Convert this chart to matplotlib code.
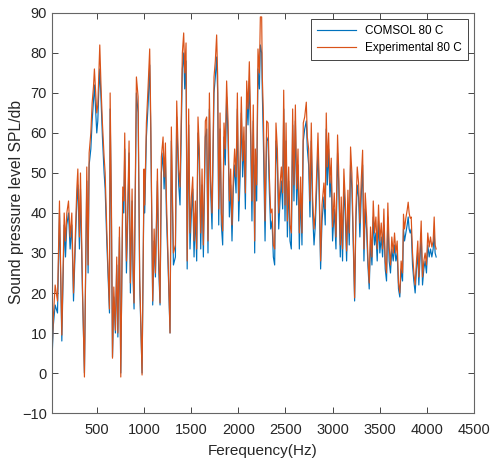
import numpy as np
import matplotlib
matplotlib.use('Agg')
import matplotlib.pyplot as plt

plt.rcParams['font.family'] = ['Liberation Sans', 'DejaVu Sans']

# frequency (Hz)
freq = [20, 35, 54, 79, 100, 125, 150, 164, 178, 196,
        213, 231, 249, 266, 284, 295, 312, 323, 344, 365,
        390, 404, 415, 433, 447, 461, 471, 496, 507, 517,
        528, 542, 556, 574, 585, 602, 631, 638, 652, 663,
        677, 694, 708, 720, 737, 751, 772, 783, 793, 811,
        822, 839, 853, 871, 882, 892, 917, 935, 952, 977,
        998, 1005, 1023, 1041, 1058, 1069, 1090, 1105, 1119, 1140,
        1154, 1168, 1182, 1200, 1211, 1225, 1235, 1253, 1274, 1288,
        1310, 1331, 1345, 1366, 1380, 1405, 1419, 1430, 1444, 1456,
        1472, 1486, 1501, 1515, 1529, 1543, 1557, 1571, 1585, 1600,
        1614, 1628, 1649, 1663, 1677, 1692, 1706, 1720, 1741, 1755,
        1769, 1780, 1791, 1805, 1819, 1833, 1847, 1861, 1875, 1890,
        1904, 1918, 1932, 1946, 1960, 1975, 1989, 2003, 2017, 2031,
        2045, 2059, 2074, 2088, 2102, 2116, 2130, 2144, 2158, 2173,
        2180, 2194, 2208, 2223, 2233, 2247, 2254, 2265, 2283, 2300,
        2315, 2329, 2343, 2357, 2371, 2385, 2399, 2414, 2428, 2442,
        2456, 2470, 2481, 2495, 2506, 2520, 2534, 2548, 2562, 2576,
        2590, 2605, 2619, 2633, 2647, 2661, 2675, 2689, 2704, 2721,
        2732, 2746, 2760, 2774, 2788, 2803, 2817, 2831, 2845, 2859,
        2873, 2888, 2908, 2922, 2933, 2944, 2958, 2972, 2986, 3000,
        3018, 3036, 3053, 3064, 3082, 3092, 3106, 3120, 3135, 3149,
        3163, 3177, 3191, 3205, 3219, 3234, 3248, 3262, 3276, 3290,
        3304, 3319, 3333, 3347, 3361, 3375, 3389, 3403, 3418, 3432,
        3446, 3460, 3474, 3488, 3502, 3517, 3531, 3545, 3559, 3573,
        3587, 3601, 3615, 3629, 3644, 3658, 3672, 3686, 3700, 3714,
        3728, 3743, 3753, 3764, 3778, 3792, 3803, 3813, 3824, 3835,
        3849, 3863, 3877, 3891, 3905, 3916, 3927, 3941, 3955, 3969,
        3983, 3997, 4011, 4026, 4040, 4054, 4068, 4079, 4089, 4100]

# experimental SPL (dB)
spl_exp = [4, 14, 22, 18, 43, 9.5, 40, 33, 40, 43,
           34, 40, 20, 33, 46, 51, 34, 50, 22, -1,
           51.5, 27, 55, 60, 67.5, 71.5, 76, 65, 67, 74,
           82, 71, 62.5, 54, 50, 36, 16, 70, 41, 3.7,
           21.5, 10.7, 29, 10, 36.5, -1, 46.5, 43, 60, 28,
           38, 58, 22.5, 46, 26, 17.5, 74, 69, 24, -0.5,
           51, 42, 62.5, 71.5, 81, 64, 18, 36, 25, 51,
           29, 17.5, 54, 59, 49, 57.5, 44, 29, 10, 61.5,
           30, 32, 68, 51, 46.5, 80, 85, 75, 82.5, 28,
           66, 35, 44, 49, 33, 43, 31, 64, 56, 35,
           51, 32, 63, 64, 33, 70, 48, 40, 74, 78,
           84.5, 74, 41, 65, 40, 35.5, 62.5, 56, 73, 63,
           43, 51, 37, 49, 56, 49, 70, 43, 52, 69,
           53, 61.5, 45, 73, 66, 77.8, 63, 43, 67, 33,
           56, 47, 81, 75, 89, 89, 74, 65, 38, 63,
           62.5, 49, 40, 41, 32, 31, 62.5, 56, 40, 47,
           51.5, 45, 70.7, 42, 62.5, 38, 51.5, 37, 35, 66,
           47, 67, 46, 56, 35, 49, 35, 62.5, 64, 67.7,
           59, 56, 43, 62.5, 44, 36, 40, 50, 60, 47,
           28, 42, 47.5, 41, 65, 51.5, 60, 47.5, 53.7, 36.5,
           45, 34, 59.5, 51.5, 32, 44, 31, 51, 43, 30.5,
           45.7, 35, 56.5, 50, 35, 18.8, 41, 51.5, 47.5, 37.5,
           48, 55.7, 31, 45, 39, 29, 22.5, 36.5, 29, 43,
           35, 39, 31, 42, 33, 37.5, 31, 41, 28, 25,
           42.5, 31.5, 27, 34, 30, 35, 30, 33, 22.5, 20,
           28, 25, 39.7, 36, 38.7, 40.7, 42.7, 40, 38.7, 39,
           30, 25, 22, 28, 33, 24, 30, 38, 24, 28,
           30, 27, 35, 31.5, 34, 31.5, 33, 39, 32, 31]

# COMSOL SPL (dB)
spl_comsol = [3, 12, 17, 15, 40, 8, 37, 29, 37, 40,
              31, 37, 18, 30, 43, 47, 31, 46, 20, 0,
              48, 25, 52, 56, 63, 68, 72, 60, 63, 70,
              76, 68, 59, 50, 46, 33, 15, 66, 38, 4,
              19, 10, 27, 9, 34, 0, 44, 40, 56, 25,
              35, 55, 20, 43, 23, 16, 70, 65, 22, 0,
              48, 40, 59, 67, 77, 61, 17, 33, 24, 48,
              26, 17, 50, 55, 46, 54, 40, 27, 10, 58,
              27, 29, 64, 47, 42, 76, 80, 71, 78, 26,
              62, 31, 40, 46, 29, 40, 28, 60, 53, 31,
              47, 29, 59, 61, 30, 66, 45, 36, 70, 74,
              79, 70, 37, 61, 37, 32, 59, 52, 69, 59,
              39, 47, 33, 46, 52, 45, 66, 38, 48, 65,
              49, 58, 41, 69, 62, 73, 59, 38, 63, 30,
              52, 43, 76, 71, 82, 80, 70, 58, 33, 59,
              58, 45, 36, 38, 29, 27, 58, 52, 36, 43,
              48, 41, 66, 38, 58, 34, 48, 33, 31, 62,
              43, 63, 42, 52, 31, 45, 32, 58, 61, 63,
              56, 52, 39, 58, 40, 32, 37, 46, 56, 43,
              26, 38, 44, 37, 61, 47, 56, 44, 49, 33,
              41, 31, 55, 48, 29, 40, 28, 47, 39, 28,
              42, 32, 52, 46, 32, 18, 38, 47, 44, 34,
              44, 52, 28, 41, 36, 27, 21, 33, 27, 39,
              32, 35, 28, 38, 30, 34, 29, 37, 26, 23,
              39, 28, 25, 31, 28, 32, 28, 30, 21, 19,
              26, 23, 36, 33, 35, 37, 39, 36, 35, 36,
              27, 23, 20, 26, 30, 22, 28, 35, 22, 26,
              28, 25, 32, 29, 31, 29, 31, 35, 30, 29]

fig = plt.figure(figsize=(4.9, 4.62), dpi=100)
ax = fig.add_axes([0.106, 0.106, 0.861, 0.866])
ax.plot(freq, spl_comsol, color='#0072BD', linewidth=0.85, label='COMSOL 80 C')
ax.plot(freq, spl_exp, color='#D95319', linewidth=0.85, label='Experimental 80 C')

ax.set_xlim(20, 4500)
ax.set_ylim(-10, 90)
ax.set_xticks(np.arange(500, 4501, 500))
ax.set_yticks(np.arange(-10, 91, 10))
ax.tick_params(direction='in', top=True, right=True, labelsize=10.5,
               colors='#262626', length=4, width=0.6)
ax.tick_params(axis='x', pad=7)
for s in ax.spines.values():
    s.set_color('#666666')
    s.set_linewidth(0.8)
ax.set_xlabel('Ferequency(Hz)', fontsize=11, color='#262626')
ax.set_ylabel('Sound pressure level SPL/db', fontsize=11.3, color='#262626')
ax.xaxis.set_label_coords(0.5, -0.078)
ax.yaxis.set_label_coords(-0.066, 0.527)

leg = ax.legend(loc='upper right', fontsize=8.5, fancybox=False, framealpha=1,
                edgecolor='#262626', handlelength=3.3, borderaxespad=0.5,
                borderpad=0.5, labelspacing=0.45)
leg.get_frame().set_linewidth(0.6)

fig.savefig('out.png', dpi=100)
